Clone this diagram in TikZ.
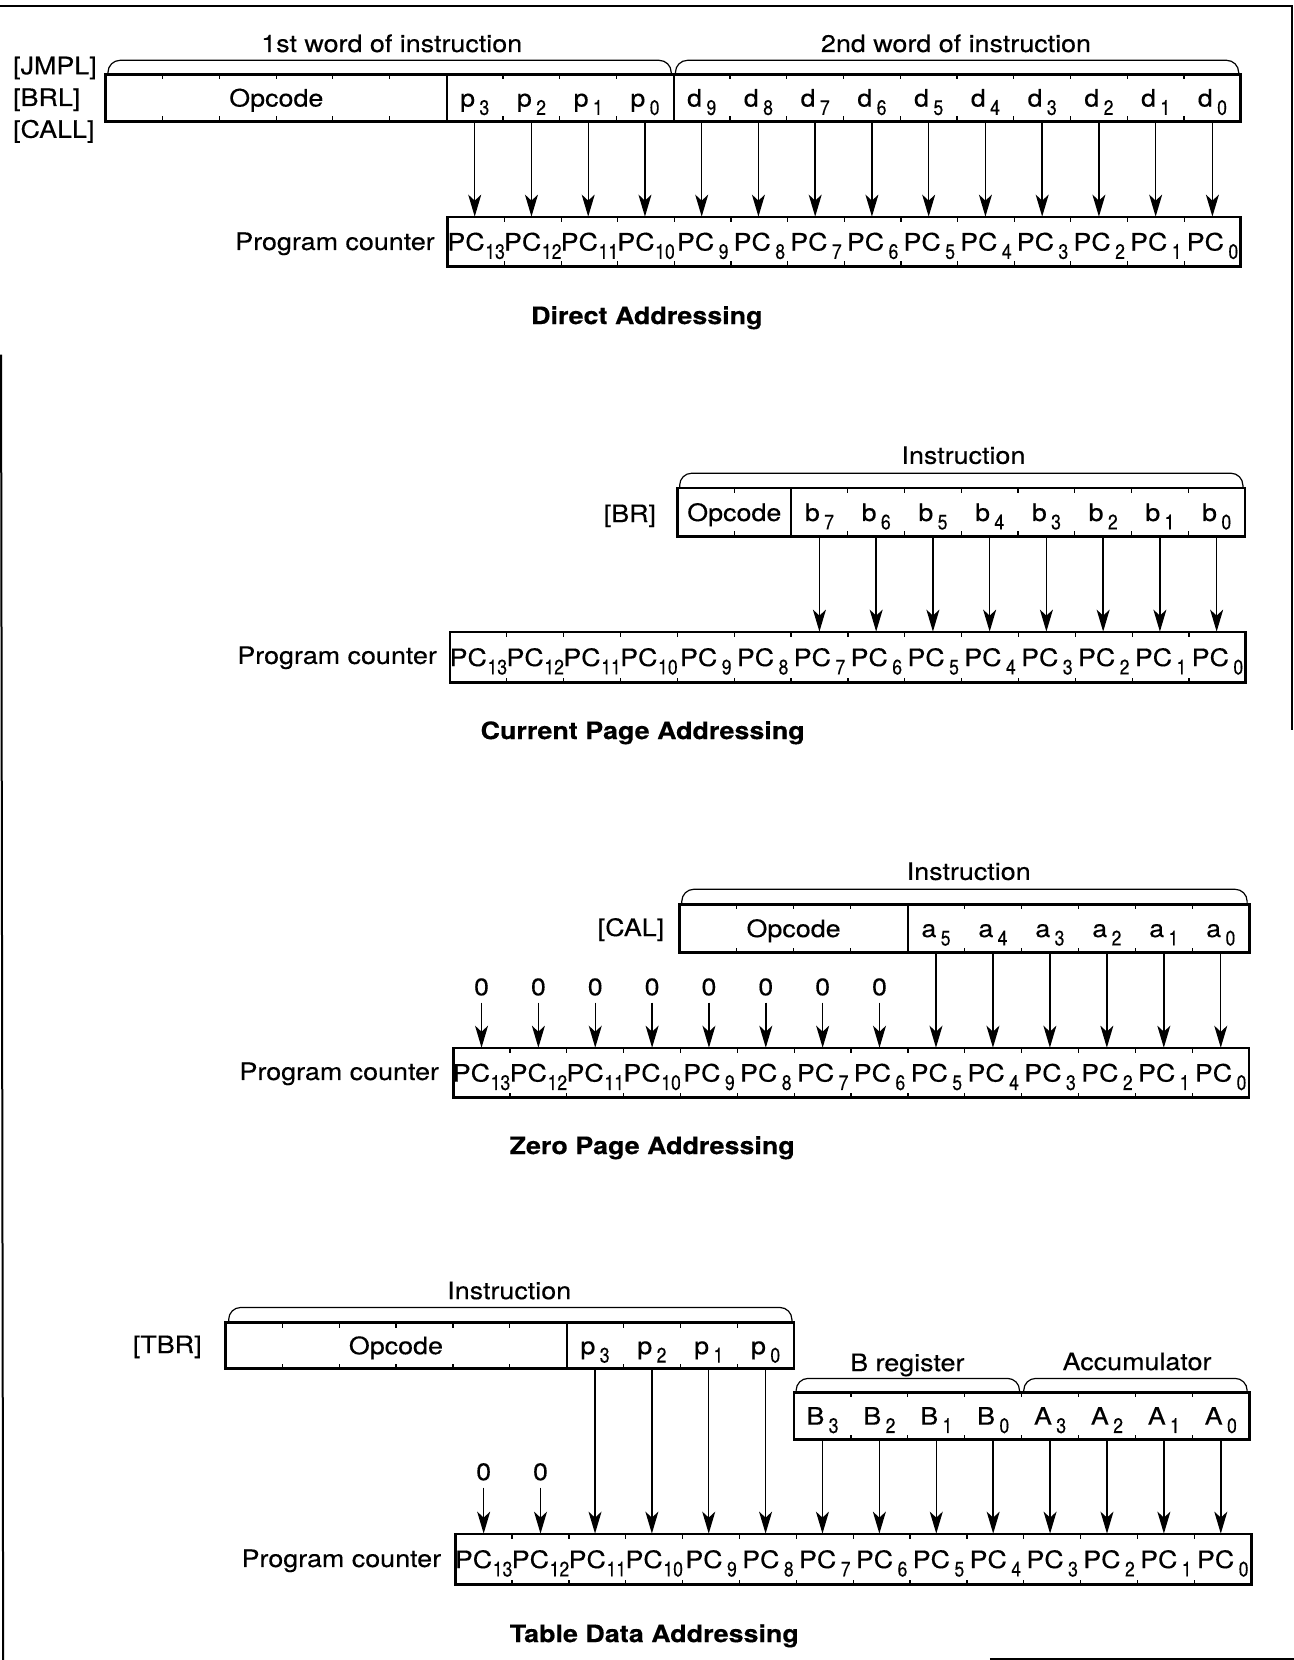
\documentclass[tikz,border=0pt]{standalone}
\usepackage{fontspec}
\setmainfont{TeX Gyre Heros}[FakeStretch=1.12, FakeBold=0.3]
\usetikzlibrary{arrows.meta,calc}
\newcommand\pxu{0.5294pt}
\newcommand\bsub[1]{\raisebox{-4.2pt}{\scalebox{0.75}[1]{\fontsize{10.5}{11}\selectfont #1}}}
\newcommand\gsub[1]{\kern2.2pt\bsub{#1}}
\newcommand\pcl[1]{PC\kern0.3pt\bsub{#1}}
\newcommand\pcg[1]{PC\gsub{#1}}
\newcommand\register[7]{%
  \foreach \lab [count=\i from 0] in {#7}{%
    \node[cell, minimum width={#5*\pxu}, minimum height={(#4-#3)*\pxu}] (#1-\i) at ({#2+(\i+0.5)*#5},{(#3+#4)/2}) {\lab};
  }%
  \pgfmathtruncatemacro\nlast{#6-1}%
  \foreach \k in {1,...,\nlast}{%
    \draw[tickline] ({#2+\k*#5},#3) -- ++(0,5);
    \draw[tickline] ({#2+\k*#5},#4) -- ++(0,-5);
  }%
  \draw[regline] (#2,#3) rectangle ({#2+#6*#5},#4);
}
\begin{document}
\begin{tikzpicture}[x=0.5294pt, y=-0.5294pt, font=\fontsize{12}{14}\selectfont,
  regline/.style={line width=1.4pt},
  tickline/.style={line width=0.6pt},
  divline/.style={line width=1pt},
  frameline/.style={line width=1pt},
  cell/.style={inner sep=0pt, text height=8.6pt, text depth=0pt},
  lbl/.style={inner sep=0pt, text height=8.6pt, text depth=0pt},
  ttl/.style={lbl, font=\fontsize{12}{14}\selectfont\bfseries},
  arr/.style={line width=0.7pt, -{Stealth[length=11pt,width=6.5pt,inset=3pt]}},
  brace/.style={line width=0.6pt, rounded corners=6pt}]
\useasboundingbox (0,0) rectangle (1222,1568);
% frame
\draw[frameline] (0,6) -- (1220,6) -- (1220,690);
\draw[frameline] (1,335) -- (3,1568);
\draw[frameline] (935,1567) -- (1222,1567);

% ===== Direct Addressing =====
\register{ra}{100}{70}{115}{53.6}{20}{{},{},{},{},{},{},p\gsub3,p\gsub2,p\gsub1,p\gsub0,d\gsub9,d\gsub8,d\gsub7,d\gsub6,d\gsub5,d\gsub4,d\gsub3,d\gsub2,d\gsub1,d\gsub0}
\draw[divline] (ra-5.north east) -- (ra-5.south east);
\draw[divline] (ra-9.north east) -- (ra-9.south east);
\node[lbl] (opa) at (261,92.5) {Opcode};
\register{pa}{423}{205}{252}{53.5}{14}{\pcl{13},\pcl{12},\pcl{11},\pcl{10},\pcg9,\pcg8,\pcg7,\pcg6,\pcg5,\pcg4,\pcg3,\pcg2,\pcg1,\pcg0}
\foreach \i in {0,...,13}{%
  \pgfmathtruncatemacro\s{\i+6}%
  \draw[arr] (ra-\s.south) -- (ra-\s.south |- pa-\i.north);
}
\draw[brace] (102,70) -- (102,57) -- (634,57) -- (634,70);
\draw[brace] (638,70) -- (638,57) -- (1170,57) -- (1170,70);
\node[lbl] (w1) at (370,41) {1st word of instruction};
\node[lbl] (w2) at (903,41) {2nd word of instruction};
\node[lbl, anchor=west] (jmpl) at (12,62) {[JMPL]};
\node[lbl, anchor=west] (brl) at (12,92) {[BRL]};
\node[lbl, anchor=west] (call) at (12,122) {[CALL]};
\node[lbl, anchor=east] (pca) at (411,228) {Program counter};
\node[ttl] (ta) at (611,298) {Direct Addressing};

% ===== Current Page Addressing =====
\register{rb}{640}{461}{507}{53.6}{10}{{},{},b\gsub7,b\gsub6,b\gsub5,b\gsub4,b\gsub3,b\gsub2,b\gsub1,b\gsub0}
\draw[divline] (rb-1.north east) -- (rb-1.south east);
\node[lbl] (opb) at (693.6,484) {Opcode};
\register{pb}{425}{597}{645}{53.7}{14}{\pcl{13},\pcl{12},\pcl{11},\pcl{10},\pcg9,\pcg8,\pcg7,\pcg6,\pcg5,\pcg4,\pcg3,\pcg2,\pcg1,\pcg0}
\foreach \i in {2,...,9}{%
  \pgfmathtruncatemacro\t{\i+4}%
  \draw[arr] (rb-\i.south) -- (rb-\i.south |- pb-\t.north);
}
\draw[brace] (642,461) -- (642,447) -- (1174,447) -- (1174,461);
\node[lbl] (ib) at (910,430) {Instruction};
\node[lbl] (br) at (595,485) {[BR]};
\node[lbl, anchor=east] (pcb) at (413,619) {Program counter};
\node[ttl] (tb) at (607,690) {Current Page Addressing};

% ===== Zero Page Addressing =====
\register{rc}{642}{854}{900}{53.8}{10}{{},{},{},{},a\gsub5,a\gsub4,a\gsub3,a\gsub2,a\gsub1,a\gsub0}
\draw[divline] (rc-3.north east) -- (rc-3.south east);
\node[lbl] (opc) at (749.6,877) {Opcode};
\register{pc}{428}{990}{1037}{53.7}{14}{\pcl{13},\pcl{12},\pcl{11},\pcl{10},\pcg9,\pcg8,\pcg7,\pcg6,\pcg5,\pcg4,\pcg3,\pcg2,\pcg1,\pcg0}
\foreach \i in {4,...,9}{%
  \pgfmathtruncatemacro\t{\i+4}%
  \draw[arr] (rc-\i.south) -- (rc-\i.south |- pc-\t.north);
}
\foreach \i in {0,...,7}{%
  \node[lbl] (zc\i) at (pc-\i.center |- 0,932) {0};
  \draw[arr, shorten <=8pt] (zc\i.center) -- (zc\i.center |- pc-\i.north);
}
\draw[brace] (644,854) -- (644,840) -- (1178,840) -- (1178,854);
\node[lbl] (ic) at (915,823) {Instruction};
\node[lbl] (cal) at (596,876) {[CAL]};
\node[lbl, anchor=east] (pcc) at (415,1012) {Program counter};
\node[ttl] (tc) at (616,1082) {Zero Page Addressing};

% ===== Table Data Addressing =====
\register{rd}{213}{1249}{1293}{53.7}{10}{{},{},{},{},{},{},p\gsub3,p\gsub2,p\gsub1,p\gsub0}
\draw[divline] (rd-5.north east) -- (rd-5.south east);
\node[lbl] (opd) at (374,1271) {Opcode};
\register{re}{750}{1315}{1360}{53.75}{8}{B\gsub3,B\gsub2,B\gsub1,B\gsub0,A\gsub3,A\gsub2,A\gsub1,A\gsub0}
\register{pd}{430}{1449}{1497}{53.7}{14}{\pcl{13},\pcl{12},\pcl{11},\pcl{10},\pcg9,\pcg8,\pcg7,\pcg6,\pcg5,\pcg4,\pcg3,\pcg2,\pcg1,\pcg0}
\foreach \i in {6,...,9}{%
  \pgfmathtruncatemacro\t{\i-4}%
  \draw[arr] (rd-\i.south) -- (rd-\i.south |- pd-\t.north);
}
\foreach \i in {0,...,7}{%
  \pgfmathtruncatemacro\t{\i+6}%
  \draw[arr] (re-\i.south) -- (re-\i.south |- pd-\t.north);
}
\foreach \i in {0,1}{%
  \node[lbl] (zd\i) at (pd-\i.center |- 0,1390) {0};
  \draw[arr, shorten <=8pt] (zd\i.center) -- (zd\i.center |- pd-\i.north);
}
\draw[brace] (216,1249) -- (216,1235) -- (748,1235) -- (748,1249);
\draw[brace] (752,1315) -- (752,1302) -- (963,1302) -- (963,1315);
\draw[brace] (967,1315) -- (967,1302) -- (1178,1302) -- (1178,1315);
\node[lbl] (id) at (481,1219) {Instruction};
\node[lbl] (tbr) at (158,1270) {[TBR]};
\node[lbl] (breg) at (857,1287) {B register};
\node[lbl] (acc) at (1074,1286) {Accumulator};
\node[lbl, anchor=east] (pcd) at (417,1472) {Program counter};
\node[ttl] (td) at (618,1543) {Table Data Addressing};
\end{tikzpicture}
\end{document}
